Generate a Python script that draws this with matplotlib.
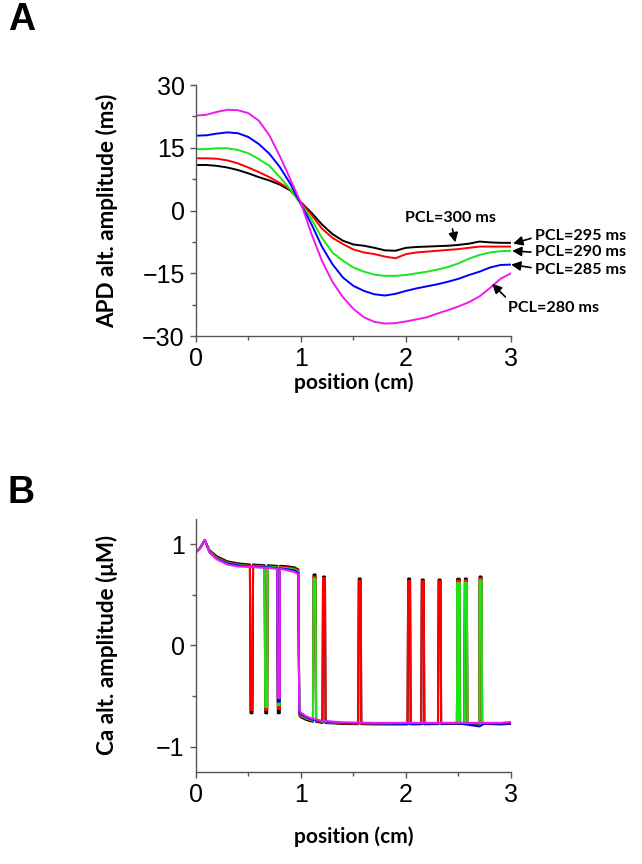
import numpy as np
import matplotlib.pyplot as plt
from matplotlib.ticker import MultipleLocator

# ---- panel A data: APD alternans amplitude vs position ----
pos_a = [0.0, 0.1, 0.2, 0.3, 0.4, 0.5, 0.6, 0.7, 0.8, 0.9, 1.0,
         1.1, 1.2, 1.3, 1.4, 1.5, 1.6, 1.7, 1.8, 1.9, 2.0,
         2.1, 2.2, 2.3, 2.4, 2.5, 2.6, 2.7, 2.8, 2.9, 3.0]
apd_300 = [10.9, 10.9, 10.7, 10.3, 9.7, 8.9, 8.0, 7.2, 6.2, 4.8, 2.0,
           -0.5, -3.3, -5.6, -7.2, -8.1, -8.4, -8.9, -9.5, -9.6, -8.9,
           -8.7, -8.6, -8.5, -8.4, -8.2, -7.9, -7.4, -7.6, -7.7, -7.7]
apd_295 = [12.5, 12.5, 12.4, 12.0, 11.3, 10.3, 9.2, 8.0, 6.6, 5.0, 2.0,
           -1.0, -4.3, -6.5, -8.0, -9.3, -10.0, -10.4, -11.0, -11.4, -10.4,
           -10.0, -9.8, -9.6, -9.4, -9.2, -8.9, -8.6, -8.6, -8.6, -8.6]
apd_290 = [14.7, 14.7, 14.9, 14.9, 14.5, 13.7, 12.3, 10.7, 8.0, 5.0, 1.6,
           -2.0, -6.5, -10.0, -12.0, -13.6, -14.6, -15.3, -15.6, -15.6, -15.4,
           -15.0, -14.6, -14.1, -13.5, -12.6, -11.5, -10.6, -10.0, -9.7, -9.6]
apd_285 = [17.9, 18.0, 18.4, 18.7, 18.5, 17.6, 15.9, 13.6, 10.4, 6.4, 1.5,
           -3.2, -8.6, -12.8, -16.0, -18.0, -19.2, -20.0, -20.3, -19.9, -19.2,
           -18.6, -18.1, -17.6, -17.0, -16.3, -15.4, -14.6, -13.6, -13.0, -12.9]
apd_280 = [22.7, 22.9, 23.6, 24.1, 24.0, 23.3, 21.5, 18.0, 13.0, 7.5, 1.8,
           -5.5, -12.0, -17.0, -20.7, -23.5, -25.5, -26.6, -27.0, -26.9, -26.5,
           -26.0, -25.5, -24.6, -23.8, -22.9, -21.9, -20.5, -18.5, -16.3, -15.0]

# ---- panel B data: Ca alternans amplitude vs position ----
pos_b = [0.0, 0.04, 0.085, 0.13, 0.2, 0.3, 0.4, 0.5, 0.6, 0.7, 0.8, 0.88, 0.94,
         0.975, 0.985, 1.0, 1.05, 1.1, 1.2, 1.4, 1.7, 2.0, 2.5, 2.7, 2.75, 2.9, 3.0]
ca_300 = [0.92, 0.96, 1.04, 0.94, 0.88, 0.83, 0.81, 0.80, 0.795, 0.79, 0.785, 0.78, 0.77,
          0.75, -0.69, -0.71, -0.735, -0.75, -0.765, -0.775, -0.78, -0.78, -0.775, -0.775, -0.775, -0.78, -0.775]
ca_295 = [0.92, 0.96, 1.04, 0.93, 0.87, 0.82, 0.80, 0.79, 0.785, 0.78, 0.775, 0.77, 0.76,
          0.74, -0.68, -0.70, -0.725, -0.74, -0.76, -0.77, -0.775, -0.775, -0.77, -0.77, -0.77, -0.775, -0.77]
ca_290 = [0.92, 0.96, 1.04, 0.93, 0.86, 0.815, 0.795, 0.785, 0.78, 0.775, 0.77, 0.76, 0.75,
          0.73, -0.67, -0.69, -0.72, -0.735, -0.755, -0.765, -0.77, -0.77, -0.765, -0.77, -0.765, -0.77, -0.765]
ca_285 = [0.92, 0.96, 1.04, 0.92, 0.855, 0.81, 0.79, 0.78, 0.775, 0.77, 0.76, 0.75, 0.74,
          0.715, -0.66, -0.68, -0.71, -0.73, -0.75, -0.765, -0.77, -0.775, -0.77, -0.80, -0.77, -0.775, -0.77]
ca_280 = [0.92, 0.96, 1.04, 0.92, 0.85, 0.80, 0.78, 0.775, 0.77, 0.765, 0.755, 0.74, 0.725,
          0.70, -0.64, -0.665, -0.70, -0.72, -0.745, -0.76, -0.765, -0.765, -0.765, -0.765, -0.765, -0.765, -0.755]

# spikes (position, tip value) where alternans flips sign
spk_300_x = [0.53, 0.67, 0.79, 1.13, 1.22, 1.56, 2.03, 2.16, 2.32, 2.50, 2.57, 2.71]
spk_300_y = [-0.67, -0.67, -0.67, 0.70, 0.68, 0.66, 0.66, 0.65, 0.65, 0.66, 0.66, 0.68]
spk_295_x = [0.53, 0.67, 0.79, 1.13, 1.22, 1.56, 2.03, 2.16, 2.32, 2.50, 2.57, 2.71]
spk_295_y = [-0.64, -0.64, -0.63, 0.68, 0.665, 0.64, 0.64, 0.635, 0.635, 0.645, 0.645, 0.665]
spk_290_x = [0.67, 0.79, 1.13, 2.50, 2.57, 2.71]
spk_290_y = [-0.61, -0.59, 0.66, 0.62, 0.62, 0.645]
spk_285_x = [0.79]
spk_285_y = [-0.555]
spk_280_x = [0.79]
spk_280_y = [-0.52]

colors = ['black', '#ff0000', '#19e619', '#0000ff', '#ee1aee']
labels_pcl = ['PCL=300 ms', 'PCL=295 ms', 'PCL=290 ms', 'PCL=285 ms', 'PCL=280 ms']

LABEL_FONT = 'Lato'
TICK_FONT = 'Liberation Sans'


def with_spikes(x, y, sx, sy, w=0.015):
    # narrow U-shaped excursion from the curve to the spike tip
    x = list(x)
    y = list(y)
    bx, by = list(x), list(y)
    for p, tip in zip(sx, sy):
        base = float(np.interp(p, bx, by))
        x += [p - w, p - w * 0.6, p + w * 0.6, p + w]
        y += [base, tip, tip, base]
    order = np.argsort(x, kind='stable')
    return np.array(x)[order], np.array(y)[order]


def style_axes(ax):
    for side in ['top', 'right']:
        ax.spines[side].set_visible(False)
    for side in ['left', 'bottom']:
        ax.spines[side].set_color('#555555')
        ax.spines[side].set_linewidth(1.0)
    ax.tick_params(which='major', direction='out', length=4, width=1,
                   color='#555555', labelsize=18, pad=4)
    ax.tick_params(which='minor', direction='out', length=3, width=1, color='#555555')
    for lab in ax.get_xticklabels() + ax.get_yticklabels():
        lab.set_fontfamily(TICK_FONT)
    ax.set_xlim(0, 3)
    ax.xaxis.set_major_locator(MultipleLocator(1))
    ax.xaxis.set_minor_locator(MultipleLocator(0.5))


fig = plt.figure(figsize=(6.42, 8.64), dpi=100)

# ---- panel A ----
axA = fig.add_axes([0.305, 0.611, 0.491, 0.2905])
for ys, c in zip([apd_300, apd_295, apd_290, apd_285, apd_280], colors):
    axA.plot(pos_a, ys, color=c, lw=1.4)
axA.set_ylim(-30, 30)
axA.yaxis.set_major_locator(MultipleLocator(15))
axA.yaxis.set_minor_locator(MultipleLocator(7.5))
style_axes(axA)
axA.set_xlabel('position (cm)', fontfamily=LABEL_FONT, fontweight='bold', fontsize=15)
axA.set_ylabel('APD alt. amplitude (ms)', fontfamily=LABEL_FONT, fontweight='bold',
               fontsize=16.2, va='center')
axA.xaxis.set_label_coords(0.5, -0.145)
axA.yaxis.set_label_coords(-0.283, 0.5)

arrow = dict(arrowstyle='-|>', color='black', lw=1.2, mutation_scale=14,
             shrinkA=1, shrinkB=0)
ann_font = dict(fontfamily=LABEL_FONT, fontweight='bold', fontsize=11.6,
                annotation_clip=False, va='center')
axA.annotate(labels_pcl[0], xy=(2.47, -7.6), xytext=(2.42, -1.7), ha='center',
             arrowprops=arrow, **ann_font)
axA.annotate(labels_pcl[1], xy=(3.02, -7.9), xytext=(3.23, -6.0), ha='left',
             arrowprops=dict(arrow, relpos=(0, 0.4)), **ann_font)
axA.annotate(labels_pcl[2], xy=(3.01, -9.6), xytext=(3.23, -10.0), ha='left',
             arrowprops=dict(arrow, relpos=(0, 0.5)), **ann_font)
axA.annotate(labels_pcl[3], xy=(3.0, -12.9), xytext=(3.23, -14.1), ha='left',
             arrowprops=dict(arrow, relpos=(0, 0.6)), **ann_font)
axA.annotate(labels_pcl[4], xy=(2.82, -17.5), xytext=(2.97, -23.2), ha='left',
             arrowprops=dict(arrow, relpos=(0.03, 0.9)), **ann_font)

# ---- panel B ----
axB = fig.add_axes([0.305, 0.1065, 0.491, 0.293])
series_b = [(ca_300, spk_300_x, spk_300_y), (ca_295, spk_295_x, spk_295_y),
            (ca_290, spk_290_x, spk_290_y), (ca_285, spk_285_x, spk_285_y),
            (ca_280, spk_280_x, spk_280_y)]
for (ys, sx, sy), c in zip(series_b, colors):
    xx, yy = with_spikes(pos_b, ys, sx, sy)
    axB.plot(xx, yy, color=c, lw=1.5)
axB.set_ylim(-1.25, 1.25)
axB.yaxis.set_major_locator(MultipleLocator(1))
axB.yaxis.set_minor_locator(MultipleLocator(0.5))
style_axes(axB)
axB.set_xlabel('position (cm)', fontfamily=LABEL_FONT, fontweight='bold', fontsize=15)
axB.set_ylabel('Ca alt. amplitude (\u03bcM)', fontfamily=LABEL_FONT, fontweight='bold',
               fontsize=16.2, va='center')
axB.xaxis.set_label_coords(0.5, -0.215)
axB.yaxis.set_label_coords(-0.283, 0.5)

fig.text(0.012, 0.977, 'A', fontfamily=TICK_FONT, fontweight='bold', fontsize=27, va='center')
fig.text(0.012, 0.429, 'B', fontfamily=TICK_FONT, fontweight='bold', fontsize=27, va='center')

fig.savefig('out.png', dpi=100)
